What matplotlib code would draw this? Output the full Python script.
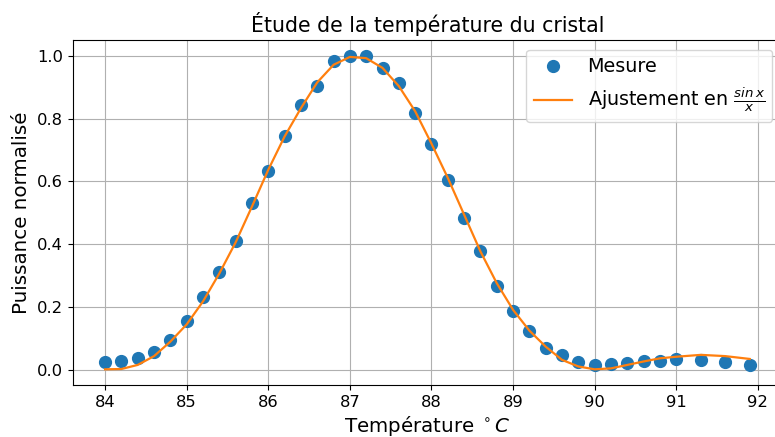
import matplotlib
matplotlib.use("Agg")
import matplotlib.pyplot as plt

# Temperatures (°C) of the measurements
temperature = [84.0, 84.2, 84.4, 84.6, 84.8, 85.0, 85.2, 85.4, 85.6, 85.8,
               86.0, 86.2, 86.4, 86.6, 86.8, 87.0, 87.2, 87.4, 87.6, 87.8,
               88.0, 88.2, 88.4, 88.6, 88.8, 89.0, 89.2, 89.4, 89.6, 89.8,
               90.0, 90.2, 90.4, 90.6, 90.8, 91.0, 91.3, 91.6, 91.9]

# Normalised measured power
mesure = [0.025, 0.030, 0.039, 0.057, 0.096, 0.156, 0.232, 0.312, 0.411, 0.531,
          0.633, 0.743, 0.842, 0.903, 0.983, 1.000, 1.000, 0.962, 0.913, 0.817,
          0.719, 0.605, 0.485, 0.379, 0.266, 0.189, 0.123, 0.069, 0.048, 0.025,
          0.016, 0.018, 0.021, 0.027, 0.030, 0.034, 0.032, 0.025, 0.016]

# sinc fit
ajustement = [0.002, 0.003, 0.016, 0.044, 0.090, 0.145, 0.218, 0.307, 0.406, 0.520,
              0.637, 0.743, 0.833, 0.915, 0.971, 0.996, 0.992, 0.961, 0.903, 0.823,
              0.720, 0.611, 0.494, 0.377, 0.276, 0.191, 0.125, 0.074, 0.032, 0.011,
              0.002, 0.005, 0.016, 0.027, 0.037, 0.042, 0.048, 0.044, 0.035]

fig, ax = plt.subplots(figsize=(7.75, 4.37), dpi=100)
ax.plot(temperature, mesure, 'o', markersize=8.5, label="Mesure")
ax.plot(temperature, ajustement, '-', linewidth=1.6, label=r"Ajustement en $\frac{sin\,x}{x}$")

ax.set_title("Étude de la température du cristal", fontsize=14.8)
ax.set_xlabel(r"Température $^\circ C$", fontsize=14.3, labelpad=3)
ax.set_ylabel("Puissance normalisé", fontsize=14.3)
ax.tick_params(labelsize=11.8)
ax.grid(True)
ax.legend(loc="upper right", fontsize=13.8)

# the right spine sits just past the figure edge, as in the original
fig.subplots_adjust(left=0.094, right=1.009, bottom=0.119, top=0.9085)
fig.savefig("out.png")
